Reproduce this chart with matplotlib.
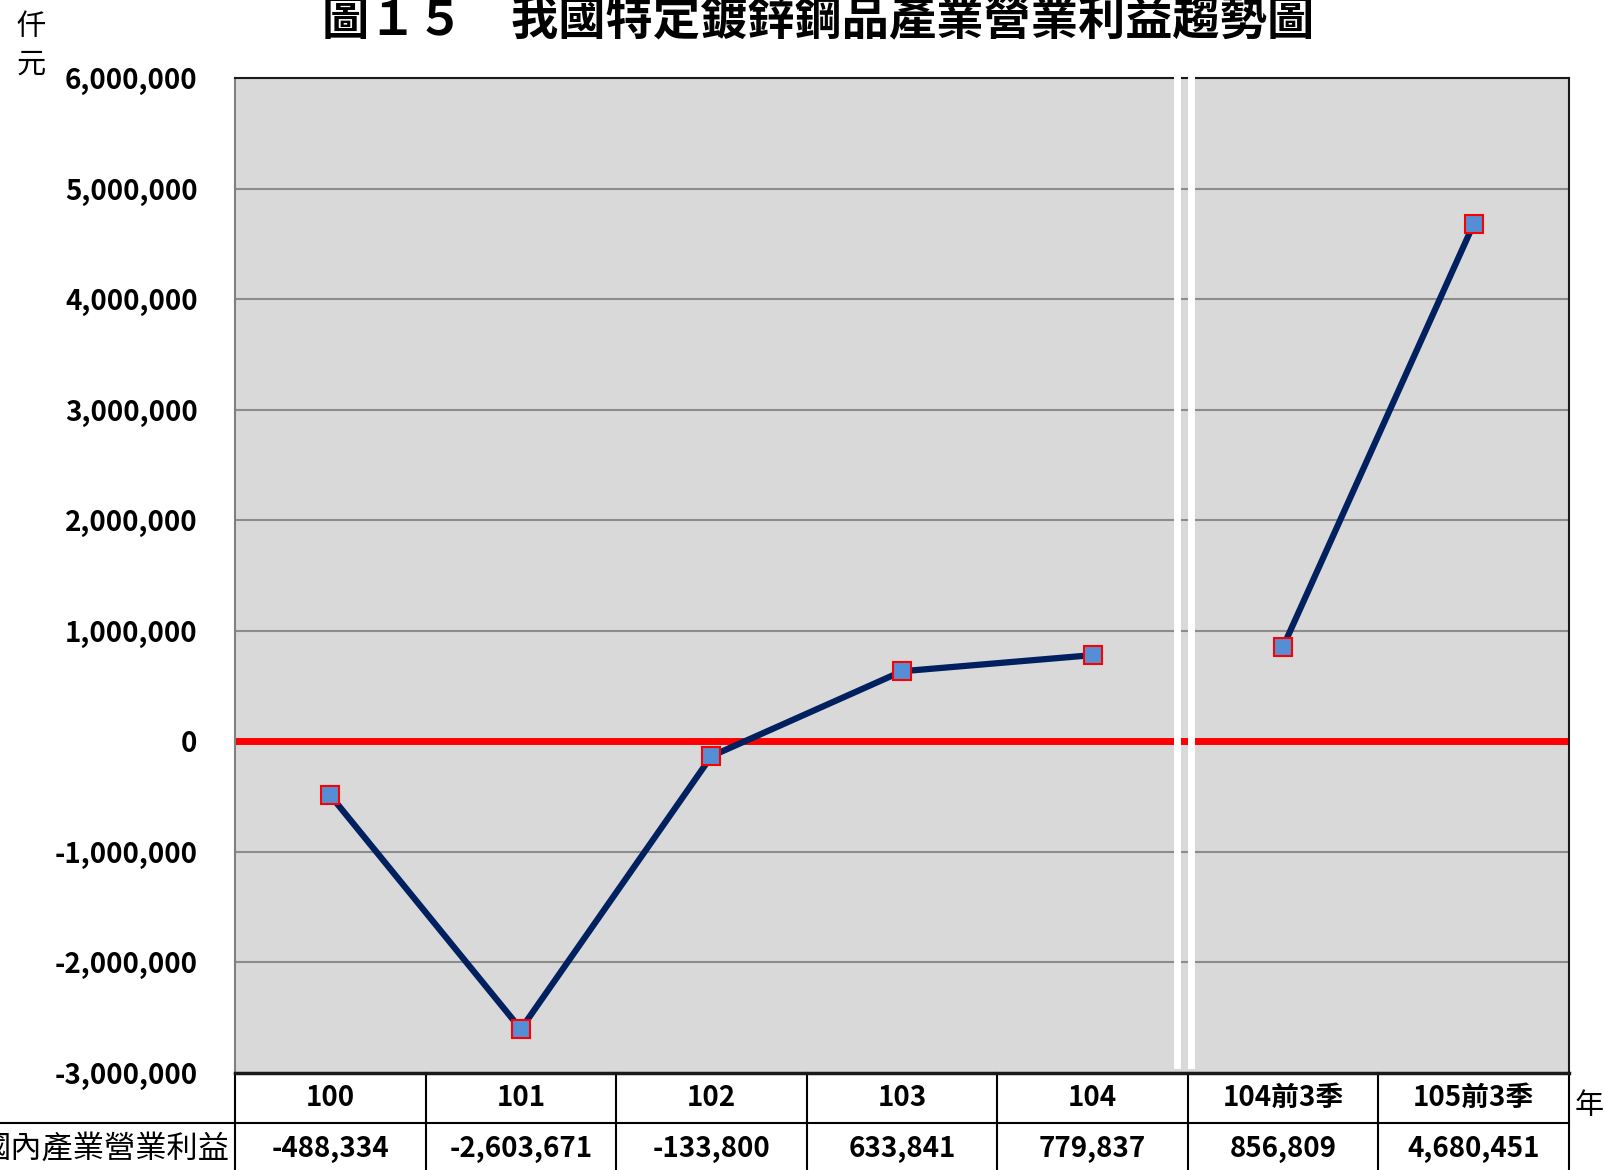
#我國特定鍍鋅鋼品產業營業利益趨勢圖
import matplotlib
matplotlib.use('Agg')
import matplotlib.pyplot as plt
import matplotlib.transforms as mtransforms

plt.rcParams['font.family'] = ['Noto Sans CJK TC', 'DejaVu Sans']

categories = ['100', '101', '102', '103', '104', '104前3季', '105前3季']
profits = [-488334, -2603671, -133800, 633841, 779837, 856809, 4680451]
yticks = list(range(-3000000, 6000001, 1000000))
row_label = '國內產業營業利益'
title = '圖１５　我國特定鍍鋅鋼品產業營業利益趨勢圖'

num_font = ['Noto Sans CJK TC', 'DejaVu Sans']
cjk_font = ['Noto Sans CJK TC', 'DejaVu Sans']

fig = plt.figure(figsize=(16.04, 11.7), dpi=100, facecolor='white')
ax = fig.add_axes([235/1604, 1-1073/1170, 1334/1604, 995/1170])
ax.set_facecolor('#D9D9D9')

x = list(range(len(categories)))
ax.set_xlim(-0.5, len(categories) - 0.5)
ax.set_ylim(yticks[0], yticks[-1])

# grid + zero line
for t in yticks:
    if t != 0:
        ax.axhline(t, color='#8C8C8C', lw=1.5, zorder=1)
ax.axhline(0, color='#FF0000', lw=5, zorder=2)

# break marks between 104 and 104前3季
for fx in (0.7065, 0.717):
    ax.axvline(-0.5 + fx * len(categories), ymin=0.008, ymax=1.002,
               color='white', lw=5, zorder=3, clip_on=False)

# two separate segments (annual / first 3 quarters)
style = dict(color='#002060', lw=4.5, marker='s', markersize=13,
             markerfacecolor='#558ED5', markeredgecolor='#FF0000',
             markeredgewidth=1.5, zorder=5)
ax.plot(x[:5], profits[:5], **style)
ax.plot(x[5:], profits[5:], **style)

ax.set_xticks([])
ax.set_yticks(yticks)
ax.set_yticklabels([f'{t:,}' for t in yticks], fontsize=20, fontweight='bold',
                   family=num_font)
ax.tick_params(axis='y', length=0, pad=27)

for s in ['top', 'right']:
    ax.spines[s].set_color('#1A1A1A')
    ax.spines[s].set_linewidth(1.5)
ax.spines['left'].set_color('#808080')
ax.spines['left'].set_linewidth(1.5)
ax.spines['bottom'].set_color('#1A1A1A')
ax.spines['bottom'].set_linewidth(2.5)

# data table under the chart
trans = mtransforms.blended_transform_factory(ax.transData, ax.transAxes)
h1 = 50 / 995
h2 = 50 / 995
for i in range(len(categories) + 1):
    ax.plot([i - 0.5, i - 0.5], [0, -h1 - h2 - 0.02], color='black', lw=1.5,
            transform=trans, clip_on=False)
ax.plot([-0.2, 1], [-h1, -h1], color='black', lw=1.5,
        transform=ax.transAxes, clip_on=False)
for i, (c, v) in enumerate(zip(categories, profits)):
    ax.text(i, -h1 / 2, c, transform=trans, ha='center', va='center',
            fontsize=20, fontweight='bold', family=num_font)
    ax.text(i, -h1 - h2 / 2 - 0.001, f'{v:,}', transform=trans, ha='center',
            va='center', fontsize=20, fontweight='bold', family=num_font)
ax.text(-0.004, -h1 - h2 / 2 - 0.001, row_label, transform=ax.transAxes,
        ha='right', va='center', fontsize=22.5, family=cjk_font)

fig.text(1589/1604, 1-1106/1170, '年', ha='center', va='center', fontsize=21,
         family=cjk_font)
fig.text(31/1604, 1-27/1170, '仟', ha='center', va='center', fontsize=21,
         family=cjk_font)
fig.text(31/1604, 1-65/1170, '元', ha='center', va='center', fontsize=21,
         family=cjk_font)
fig.text(0.51, 1-21/1170, title, ha='center', va='center', fontsize=34,
         fontweight='bold', family=cjk_font)

plt.savefig('out.png', dpi=100, facecolor='white')
